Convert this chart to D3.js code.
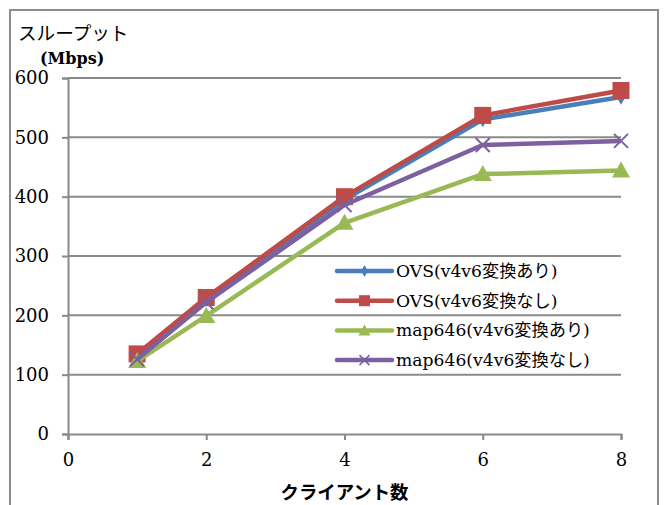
<!DOCTYPE html>
<html>
<head>
<meta charset="utf-8">
<script src="https://cdn.jsdelivr.net/npm/d3@7"></script>
<style>
  html, body { margin: 0; padding: 0; background: #fff; }
  svg { display: block; }
</style>
</head>
<body>
<svg id="chart" width="668" height="505"></svg>
<script>
// Client counts on the x axis
const clients = [1, 2, 4, 6, 8];

// Throughput (Mbps) per configuration
const ovsWithConv = [133, 227, 395, 530, 568];
const ovsNoConv = [135, 230, 400, 537, 579];
const mapWithConv = [123, 199, 356, 438, 444];
const mapNoConv = [126, 222, 386, 487, 494];

const seriesNames = [
  "OVS(v4v6変換あり)",
  "OVS(v4v6変換なし)",
  "map646(v4v6変換あり)",
  "map646(v4v6変換なし)"
];
const seriesColors = ["#4a7ebb", "#be4b48", "#98b954", "#7d60a0"];
const seriesMarkers = ["diamond", "square", "triangle", "cross"];

const xTicks = [0, 2, 4, 6, 8];
const yTicks = [0, 100, 200, 300, 400, 500, 600];

const series = [ovsWithConv, ovsNoConv, mapWithConv, mapNoConv].map((vals, i) => ({
  name: seriesNames[i],
  color: seriesColors[i],
  marker: seriesMarkers[i],
  points: vals.map((v, j) => ({ x: clients[j], y: v }))
}));

const serif = "'DejaVu Serif', 'Noto Sans CJK JP', serif";
const svg = d3.select("#chart");

// Outer chart frame
svg.append("rect")
  .attr("x", 10).attr("y", 10)
  .attr("width", 648).attr("height", 510)
  .attr("fill", "none").attr("stroke", "#8c8c8c").attr("stroke-width", 2);

const x = d3.scaleLinear().domain([0, 8]).range([68, 621]);
const y = d3.scaleLinear().domain([0, 600]).range([434, 78]);

// Horizontal gridlines
svg.append("g").selectAll("line")
  .data(yTicks.filter(d => d > 0))
  .join("line")
  .attr("x1", x(0)).attr("x2", x(8))
  .attr("y1", d => y(d)).attr("y2", d => y(d))
  .attr("stroke", "#8a8a8a").attr("stroke-width", 2);

// Axes
const yAxis = svg.append("g")
  .attr("transform", `translate(${x(0)},0)`)
  .call(d3.axisLeft(y).tickValues(yTicks).tickSize(6).tickPadding(13).tickFormat(d3.format("d")));
const xAxis = svg.append("g")
  .attr("transform", `translate(0,${y(0)})`)
  .call(d3.axisBottom(x).tickValues(xTicks).tickSize(6).tickPadding(13).tickFormat(d3.format("d")));

[yAxis, xAxis].forEach(g => {
  g.select(".domain").attr("stroke", "#8a8a8a").attr("stroke-width", 2);
  g.selectAll(".tick line").attr("stroke", "#8a8a8a").attr("stroke-width", 2);
  g.selectAll(".tick text")
    .attr("font-family", serif).attr("font-size", 18).attr("fill", "#000");
});

// Marker drawing
function drawMarker(sel, kind, color) {
  if (kind === "diamond") {
    sel.append("path").attr("d", d3.symbol(d3.symbolDiamond, 70)())
      .attr("fill", color);
  } else if (kind === "square") {
    sel.append("rect").attr("x", -8.5).attr("y", -8.5).attr("width", 17).attr("height", 17)
      .attr("fill", color);
  } else if (kind === "triangle") {
    sel.append("path").attr("d", "M0,-9L9,7L-9,7Z").attr("fill", color);
  } else if (kind === "cross") {
    sel.append("path").attr("d", "M-7,-7L7,7M-7,7L7,-7")
      .attr("stroke", color).attr("stroke-width", 2).attr("fill", "none");
  }
}

const line = d3.line().x(d => x(d.x)).y(d => y(d.y));

series.forEach(s => {
  const g = svg.append("g");
  g.append("path").datum(s.points)
    .attr("d", line)
    .attr("fill", "none")
    .attr("stroke", s.color)
    .attr("stroke-width", 4.5)
    .attr("stroke-linejoin", "round");
  g.selectAll("g.pt").data(s.points).join("g")
    .attr("class", "pt")
    .attr("transform", d => `translate(${x(d.x)},${y(d.y)})`)
    .each(function () { drawMarker(d3.select(this), s.marker, s.color); });
});

// Legend
const legend = svg.append("g").attr("transform", "translate(337,271)");
series.forEach((s, i) => {
  const row = legend.append("g").attr("transform", `translate(0,${i * 29.7})`);
  row.append("line").attr("x1", 0).attr("x2", 55).attr("y1", 0).attr("y2", 0)
    .attr("stroke", s.color).attr("stroke-width", 4.5).attr("stroke-linecap", "round");
  const m = row.append("g").attr("transform", "translate(27.5,0)");
  if (s.marker === "diamond") {
    m.append("path").attr("d", d3.symbol(d3.symbolDiamond, 40)()).attr("fill", s.color);
  } else if (s.marker === "square") {
    m.append("rect").attr("x", -5.5).attr("y", -5.5).attr("width", 11).attr("height", 11).attr("fill", s.color);
  } else if (s.marker === "triangle") {
    m.append("path").attr("d", "M0,-6L6,5L-6,5Z").attr("fill", s.color);
  } else {
    m.append("path").attr("d", "M-5,-5L5,5M-5,5L5,-5").attr("stroke", s.color).attr("stroke-width", 1.5);
  }
  row.append("text")
    .attr("x", 59).attr("y", 0).attr("dy", "0.35em")
    .attr("font-family", serif).attr("font-size", 17.2).attr("fill", "#000")
    .text(s.name);
});

// Axis titles
svg.append("text")
  .attr("x", 18).attr("y", 40)
  .attr("font-family", serif).attr("font-size", 18.6).attr("fill", "#000")
  .text("スループット");
svg.append("text")
  .attr("x", 40).attr("y", 64)
  .attr("font-family", serif).attr("font-size", 16).attr("font-weight", "bold").attr("fill", "#000")
  .text("(Mbps)");
svg.append("text")
  .attr("x", (x(0) + x(8)) / 2).attr("y", 499)
  .attr("text-anchor", "middle")
  .attr("font-family", serif).attr("font-size", 18.4).attr("font-weight", "bold").attr("fill", "#000")
  .text("クライアント数");
</script>
</body>
</html>
